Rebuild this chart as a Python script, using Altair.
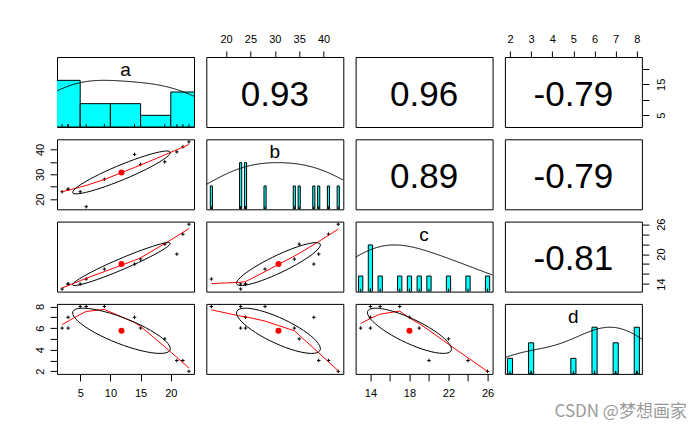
import json
import numpy as np
import pandas as pd
import altair as alt

# ---------------- data ----------------
names = ["a", "b", "c", "d"]
a = [2, 3, 3, 5, 6, 9, 14, 15, 19, 21, 22, 23]
b = [23, 24, 24, 23, 17, 28, 38, 34, 35, 39, 41, 43]
c = [13, 14, 14, 14, 15, 17, 18, 19, 22, 20, 24, 26]
d = [6, 6, 7, 8, 8, 8, 7, 6, 5, 3, 3, 2]

# kernel bandwidths of the density curves
bandwidths = {"a": 7.0, "b": 8.0, "c": 3.8, "d": 1.5}

# axis ticks and the ticks that carry a label
tick_a = [5, 10, 15, 20]
tick_b = [20, 25, 30, 35, 40]
tick_c = [14, 16, 18, 20, 22, 24, 26]
tick_d = [2, 3, 4, 5, 6, 7, 8]
lab_bottom_a = [5, 10, 15, 20]
lab_right_a = [5, 15]
lab_top_b = [20, 25, 30, 35, 40]
lab_left_b = [20, 30, 40]
lab_right_c = [14, 20, 26]
lab_bottom_c = [14, 18, 22, 26]
lab_top_d = [2, 3, 4, 5, 6, 7, 8]
lab_left_d = [2, 4, 6, 8]

watermark = "CSDN @梦想画家"

cols = {"a": a, "b": b, "c": c, "d": d}
df = pd.DataFrame(cols)

W, H = 137, 70
SP = 12.3
FONT = "Liberation Sans"
PLUS = "M-1,0H1M0,-1V1"


def dom(v):
    lo, hi = min(v), max(v)
    p = 0.04 * (hi - lo)
    return [lo - p, hi + p]


def sc(v):
    return alt.Scale(domain=dom(cols[v]), nice=False, zero=False)


YDIAG = alt.Scale(domain=[0, 1.5], nice=False, zero=False)

AX = {(0, 1): ("top", tick_b, lab_top_b), (0, 3): ("top", tick_d, lab_top_d),
      (3, 0): ("bottom", tick_a, lab_bottom_a), (3, 2): ("bottom", tick_c, lab_bottom_c)}
AY = {(1, 0): ("left", tick_b, lab_left_b), (3, 0): ("left", tick_d, lab_left_d),
      (0, 3): ("right", tick_a, lab_right_a), (2, 3): ("right", tick_c, lab_right_c)}


def make_axis(orient, ticks, labels):
    expr = "indexof(%s, datum.value) >= 0 ? datum.label : ''" % json.dumps(labels)
    kw = dict(orient=orient, values=ticks, labelExpr=expr, tickSize=7, labelPadding=7,
              labelOverlap=False, labelFlush=False, title=None)
    if orient == "top":
        kw["tickSize"] = 6
    if orient == "left":
        kw.update(labelAngle=270, labelAlign="center", labelBaseline="bottom", labelPadding=5)
    if orient == "right":
        kw.update(labelAngle=270, labelAlign="center", labelBaseline="top")
    return alt.Axis(**kw)


def X(i, j, field=None):
    v = names[j]
    ax = make_axis(*AX[(i, j)]) if (i, j) in AX else None
    return alt.X(f"{field or v}:Q", scale=sc(v), axis=ax)


def Y(i, j, field=None):
    v = names[i]
    ax = make_axis(*AY[(i, j)]) if (i, j) in AY else None
    return alt.Y(f"{field or v}:Q", scale=sc(v), axis=ax)


def ellipse_df(xv, yv):
    x = np.array(cols[xv], float)
    y = np.array(cols[yv], float)
    xm, ym = x.mean(), y.mean()
    xs, ys = x.std(ddof=1), y.std(ddof=1)
    r = np.corrcoef(x, y)[0, 1]
    t = np.arange(52) * 2 * np.pi / 51
    th = np.sign(r) / np.sqrt(2) if abs(r) > 0 else 1 / np.sqrt(2)
    shape = np.diag([np.sqrt(1 + r), np.sqrt(1 - r)]) @ np.array([[th, th], [-th, th]])
    e = np.column_stack([np.cos(t), np.sin(t)]) @ shape
    return pd.DataFrame({xv: e[:, 0] * xs + xm, yv: e[:, 1] * ys + ym, "k": np.arange(52)})


def lower(i, j):
    xv, yv = names[j], names[i]
    base = alt.Chart(df)
    pts = base.mark_point(shape=PLUS, size=12, filled=False, color="black",
                          strokeWidth=1, opacity=1).encode(x=X(i, j), y=Y(i, j))
    lo = base.transform_loess(on=xv, loess=yv, bandwidth=2 / 3).mark_line(
        color="red", strokeWidth=1, clip=True).encode(x=X(i, j), y=Y(i, j))
    mdf = pd.DataFrame({xv: [float(np.mean(cols[xv]))], yv: [float(np.mean(cols[yv]))]})
    mean = alt.Chart(mdf).mark_circle(color="red", size=36, opacity=1).encode(
        x=X(i, j), y=Y(i, j))
    ell = alt.Chart(ellipse_df(xv, yv)).mark_line(color="black", strokeWidth=1, clip=True).encode(
        x=X(i, j), y=Y(i, j), order="k:Q")
    return alt.layer(pts, lo, mean, ell)


def upper(i, j):
    xv, yv = names[j], names[i]
    r = np.corrcoef(np.array(cols[xv], float), np.array(cols[yv], float))[0, 1]
    txt = f"{r:.2f}"
    inv = alt.Chart(df).mark_point(opacity=0).encode(x=X(i, j), y=Y(i, j))
    t = alt.Chart(pd.DataFrame({"t": [txt]})).mark_text(
        font=FONT, fontSize=35, align="center", baseline="alphabetic", color="black").encode(
        text="t:N", x=alt.value(W / 2), y=alt.value(48.7))
    return alt.layer(inv, t)


def diag(i):
    v = names[i]
    vals = cols[v]
    base = alt.Chart(df)
    uniq = sorted(set(vals))
    k = len(uniq)
    if k < 11:
        hw = min(np.diff(uniq)) * (k - 1) / 41
        bars = base.transform_aggregate(n="count()", groupby=[v]).transform_joinaggregate(
            m="max(n)").transform_calculate(
            lo=f"datum.{v} - {hw}", hi=f"datum.{v} + {hw}", h="datum.n / datum.m", z="0")
    else:
        step = 5  # Sturges breaks of this variable
        bars = base.transform_calculate(hi=f"ceil(datum.{v} / {step}) * {step}").transform_aggregate(
            n="count()", groupby=["hi"]).transform_joinaggregate(m="max(n)").transform_calculate(
            lo=f"datum.hi - {step}", h="datum.n / datum.m", z="0")
    bars = bars.mark_rect(fill="#00FFFF", stroke="black", strokeWidth=1, clip=True).encode(
        x=alt.X("lo:Q", scale=sc(v), axis=None), x2="hi:Q",
        y=alt.Y("h:Q", scale=YDIAG, axis=None), y2="z:Q")
    lo_, hi_ = dom(vals)
    dens = base.transform_density(v, as_=[v, "dens"], bandwidth=bandwidths[v],
                                  extent=[lo_, hi_], steps=200).transform_joinaggregate(
        mx="max(dens)").transform_calculate(hh="datum.dens / datum.mx").mark_line(
        color="black", strokeWidth=1, clip=True).encode(
        x=alt.X(f"{v}:Q", scale=sc(v), axis=None), y=alt.Y("hh:Q", scale=YDIAG, axis=None))
    rug = base.mark_rule(color="black", strokeWidth=1).encode(
        x=alt.X(f"{v}:Q", scale=sc(v), axis=None), y=alt.value(H - 3), y2=alt.value(H))
    lab = alt.Chart(pd.DataFrame({"t": [v]})).mark_text(
        font=FONT, fontSize=19, align="center", baseline="alphabetic", color="black").encode(
        text="t:N", x=alt.value(W / 2), y=alt.value(19))
    layers = [bars, dens, rug, lab]
    if i == 3:
        wm = alt.Chart(pd.DataFrame({"t": [watermark]})).mark_text(
            font="Noto Sans CJK SC", fontSize=17, align="right", baseline="alphabetic",
            color="#9a9a9a").encode(text="t:N", x=alt.value(182), y=alt.value(113))
        layers.append(wm)
    return alt.layer(*layers)


panels = []
for i in range(4):
    for j in range(4):
        if i == j:
            p = diag(i)
        elif i > j:
            p = lower(i, j)
        else:
            p = upper(i, j)
        panels.append(p.properties(width=W, height=H))

chart = alt.concat(*panels, columns=4, spacing=SP, bounds="flush").properties(
    padding={"left": 25, "top": 24, "right": 0, "bottom": 0}
).configure_view(stroke="black", strokeWidth=1).configure_axis(
    domain=False, grid=False, labelFont=FONT, labelFontSize=11, labelColor="black",
    tickColor="black", tickWidth=1)

chart.save("out.html", embed_options={"renderer": "svg", "actions": False})
